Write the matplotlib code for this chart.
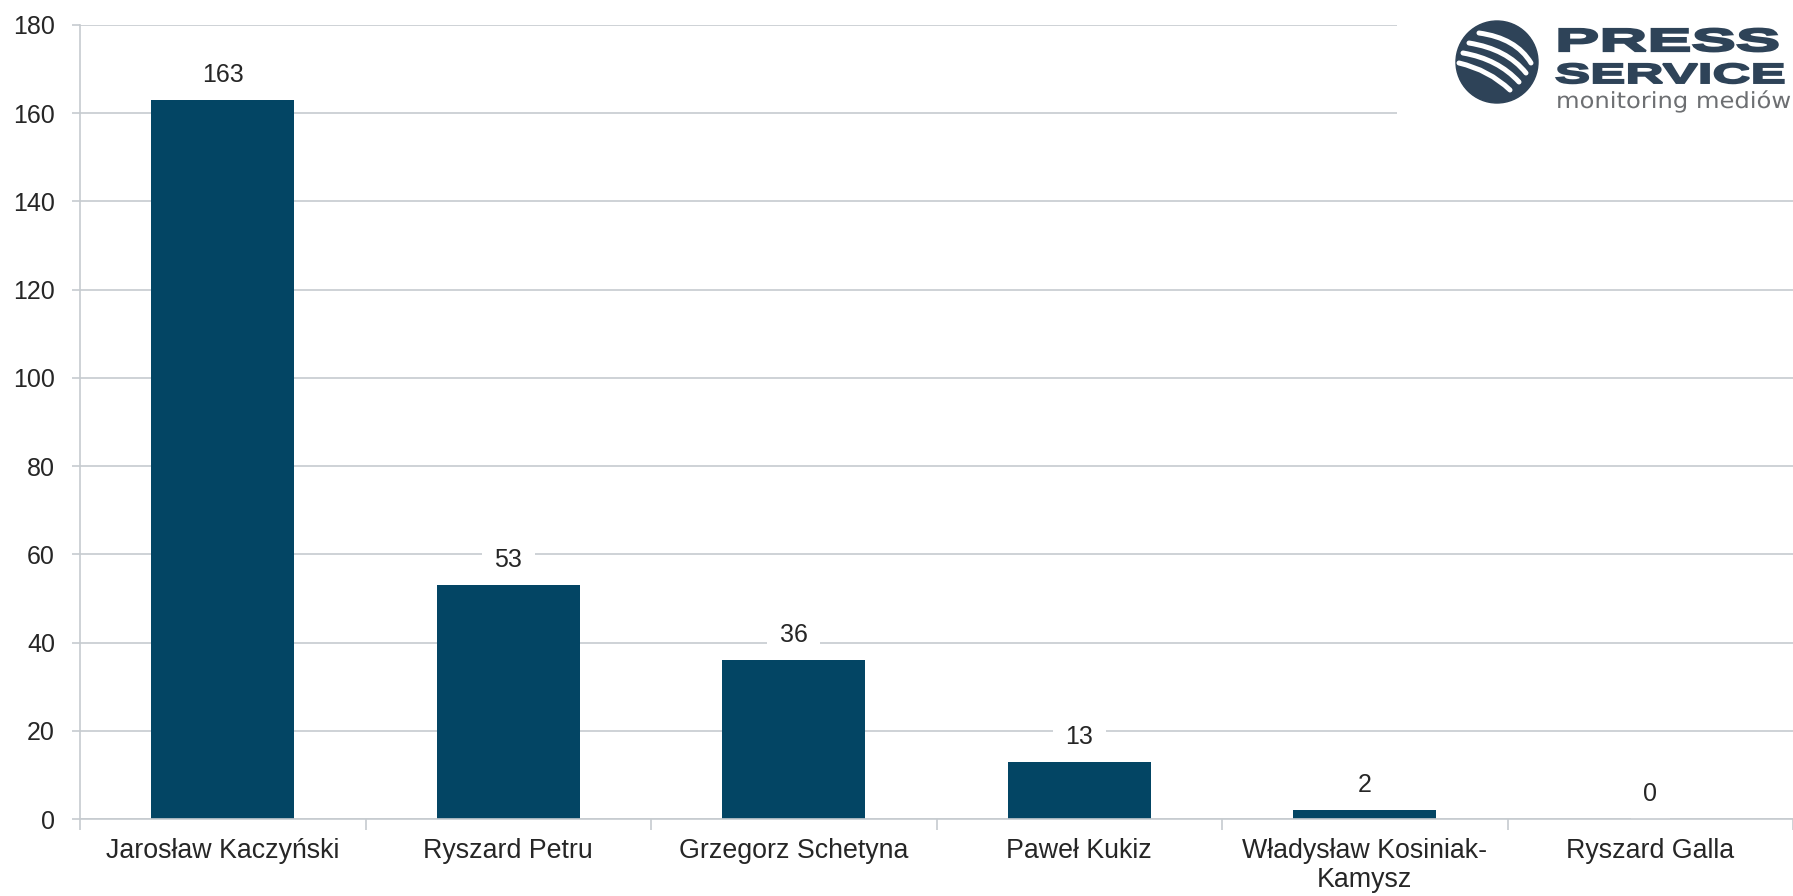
import matplotlib
matplotlib.use("Agg")
import matplotlib.pyplot as plt
from matplotlib.patheffects import AbstractPathEffect
from matplotlib.transforms import Affine2D
from matplotlib.patches import Circle, Rectangle, PathPatch
from matplotlib.path import Path

# ---- data ----
categories = ["Jarosław Kaczyński", "Ryszard Petru", "Grzegorz Schetyna",
              "Paweł Kukiz", "Władysław Kosiniak-\nKamysz", "Ryszard Galla"]
values = [163, 53, 36, 13, 2, 0]
yticks = [0, 20, 40, 60, 80, 100, 120, 140, 160, 180]

BAR = "#034564"
GRID = "#c6cbcf"
TXT = "#262626"
plt.rcParams["font.family"] = ["Liberation Sans", "DejaVu Sans"]

W, H = 1793, 896
fig = plt.figure(figsize=(W / 100, H / 100), dpi=100)
ax = fig.add_axes([80 / W, 77 / H, (W - 80) / W, (819 - 25) / H])

x = list(range(len(categories)))
ax.bar(x, values, width=0.5, color=BAR, zorder=2)
ax.set_xlim(-0.5, len(categories) - 0.5)
ax.set_ylim(0, 180)
ax.set_yticks(yticks)
ax.set_yticklabels([str(t) for t in yticks])
ax.yaxis.grid(True, color=GRID, lw=1.2)
ax.set_axisbelow(True)
for s in ["top", "right"]:
    ax.spines[s].set_visible(False)
for s in ["left", "bottom"]:
    ax.spines[s].set_color(GRID)
    ax.spines[s].set_linewidth(1.2)

ax.set_xticks(x)
ax.set_xticklabels(categories, fontsize=19.3, color=TXT, linespacing=1.15)
ax.set_xticks([i - 0.5 for i in range(len(categories) + 1)], minor=True)
ax.tick_params(axis="x", which="major", length=0, pad=14)
ax.tick_params(axis="x", which="minor", length=8, color=GRID, width=1.2)
ax.tick_params(axis="y", length=6, color=GRID, width=1.2, labelsize=18,
               labelcolor=TXT, pad=12)

for xi, v in zip(x, values):
    ax.annotate(str(v), (xi, v), xytext=(0, 18), textcoords="offset points",
                ha="center", va="center", fontsize=18, color=TXT, zorder=1.5,
                bbox=dict(boxstyle="square,pad=0.5", fc="white", ec="none"))


# ---- logo ----
class Stretch(AbstractPathEffect):
    def __init__(self, sx, stroke=0.0):
        super().__init__()
        self.sx = sx
        self.stroke = stroke

    def draw_path(self, renderer, gc, tpath, affine, rgbFace=None):
        aff = Affine2D().scale(self.sx, 1) + affine
        gc0 = renderer.new_gc()
        gc0.copy_properties(gc)
        if self.stroke > 0 and rgbFace is not None:
            gc0.set_linewidth(self.stroke)
            gc0.set_foreground(rgbFace)
            gc0.set_joinstyle("miter")
        renderer.draw_path(gc0, tpath, aff, rgbFace)
        gc0.restore()


lx0, lx1, ly1 = 1397, W, 135
lax = fig.add_axes([lx0 / W, (H - ly1) / H, (lx1 - lx0) / W, ly1 / H], zorder=5)
lax.set_xlim(lx0, lx1)
lax.set_ylim(ly1, 0)
lax.axis("off")
lax.add_patch(Rectangle((lx0, 0), lx1 - lx0, ly1, fc="white", ec="none", zorder=0))
LOGO = "#2e4358"
circ = Circle((1497, 62), 41, color=LOGO, zorder=1)
lax.add_patch(circ)
stripes = [((1479, 33), (1516, 38), (1531, 63)),
           ((1469, 43), (1507, 49), (1526, 73)),
           ((1463, 53), (1498, 59), (1519, 82)),
           ((1459, 63), (1489, 70), (1510, 90))]
for p0, c, p1 in stripes:
    pth = Path([p0, c, p1], [Path.MOVETO, Path.CURVE3, Path.CURVE3])
    pp = PathPatch(pth, fc="none", ec="white", lw=3.6, capstyle="round", zorder=2)
    lax.add_patch(pp)
    pp.set_clip_path(circ)

lax.text(1555, 51, "PRESS", fontsize=23, fontweight="bold", color=LOGO,
         ha="left", va="baseline", family="Liberation Sans",
         path_effects=[Stretch(2.08, stroke=1.6)])
lax.text(1555, 83, "SERVICE", fontsize=20, fontweight="bold", color=LOGO,
         ha="left", va="baseline", family="Liberation Sans",
         path_effects=[Stretch(1.9, stroke=1.4)])
lax.text(1556, 108, "monitoring mediów", fontsize=16, color="#6d6f72",
         ha="left", va="baseline", family="DejaVu Sans",
         path_effects=[Stretch(1.09)])

fig.savefig("out.png", dpi=100, facecolor="white")
